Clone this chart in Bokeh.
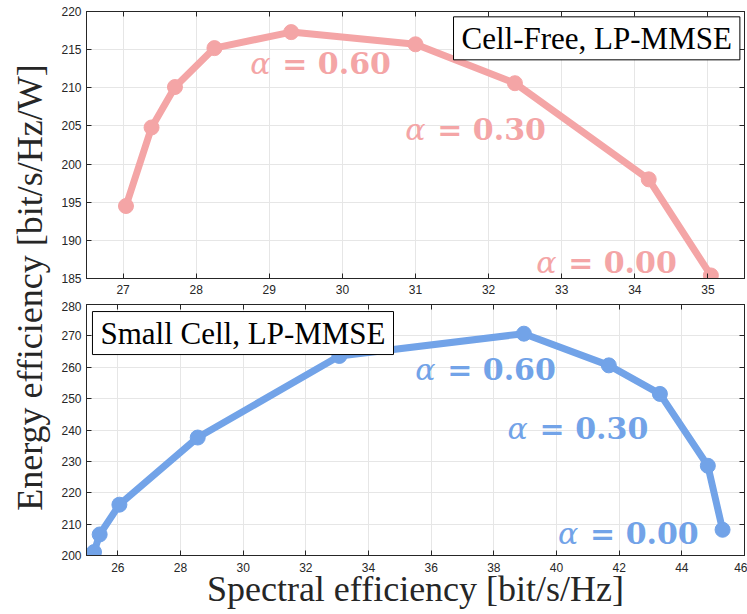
import math
from bokeh.plotting import figure
from bokeh.layouts import row, column
from bokeh.models import Range1d, SingleIntervalTicker, LinearAxis, Label, ColumnDataSource
from bokeh.core.properties import value
from bokeh.embed import file_html
from bokeh.resources import INLINE

# ---------------- data ----------------
cf_se = [27.04, 27.39, 27.71, 28.25, 29.30, 31.00, 32.36, 34.19, 35.04]
cf_ee = [194.5, 204.8, 210.1, 215.2, 217.3, 215.7, 210.6, 198.0, 185.4]

sc_se = [25.24, 25.42, 26.05, 28.55, 33.07, 38.96, 41.67, 43.30, 44.83, 45.30]
sc_ee = [201.1, 206.7, 216.2, 237.6, 263.6, 270.7, 260.6, 251.5, 228.6, 208.2]

alpha_values = ["= 0.60", "= 0.30", "= 0.00"]
cf_ann_x = [28.74, 30.86, 32.65]
cf_ann_y = [213.2, 204.5, 187.1]
sc_ann_x = [35.49, 38.44, 40.05]
sc_ann_y = [259.3, 240.5, 206.9]

cf_title = "Cell-Free, LP-MMSE"
sc_title = "Small Cell, LP-MMSE"
x_label = "Spectral efficiency [bit/s/Hz]"
y_label = "Energy efficiency [bit/s/Hz/W]"

PINK = "#F4A5A6"
BLUE = "#72A3E8"
AX = "#262626"
GRID = "#E6E6E6"
SERIF = "'Liberation Serif', 'Times New Roman', serif"
SANS = "'Liberation Sans', Arial, sans-serif"
STRIP = 55


def make_fig(w, h, xr, yr, xint, yint, mbt, mbb, xstand):
    p = figure(width=w, height=h, x_range=Range1d(*xr), y_range=Range1d(*yr),
               toolbar_location=None, output_backend="svg",
               min_border_left=86 - STRIP, min_border_right=3,
               min_border_top=mbt, min_border_bottom=mbb)
    bx = p.below[0]
    ly = p.left[0]
    bx.ticker = SingleIntervalTicker(interval=xint, num_minor_ticks=0)
    ly.ticker = SingleIntervalTicker(interval=yint, num_minor_ticks=0)
    for ax in (bx, ly):
        ax.major_tick_in = 5
        ax.major_tick_out = 0
        ax.minor_tick_line_color = None
        ax.axis_line_color = AX
        ax.major_tick_line_color = AX
        ax.major_label_text_font = SANS
        ax.major_label_text_font_size = "12px"
        ax.major_label_text_color = AX
    bx.major_label_standoff = xstand
    ly.major_label_standoff = 5
    # ticks on top and right (box), without labels
    top_ax = LinearAxis(ticker=SingleIntervalTicker(interval=xint, num_minor_ticks=0),
                        major_label_text_color=None, major_tick_in=5, major_tick_out=0,
                        major_label_standoff=0, axis_line_color=AX, major_tick_line_color=AX,
                        minor_tick_line_color=None)
    right_ax = LinearAxis(ticker=SingleIntervalTicker(interval=yint, num_minor_ticks=0),
                          major_label_text_color=None, major_tick_in=5, major_tick_out=0,
                          major_label_standoff=0, axis_line_color=AX, major_tick_line_color=AX,
                          minor_tick_line_color=None)
    p.add_layout(top_ax, "above")
    p.add_layout(right_ax, "right")
    p.xgrid.grid_line_color = GRID
    p.ygrid.grid_line_color = GRID
    p.outline_line_color = AX
    p.background_fill_color = "white"
    p.border_fill_color = "white"
    return p, bx


def add_series(p, xs, ys, color, ax_, ay_):
    src = ColumnDataSource(dict(x=xs, y=ys))
    p.line("x", "y", source=src, line_width=7, line_color=color)
    p.scatter("x", "y", source=src, size=15, fill_color=color, line_color=color)
    asrc = ColumnDataSource(dict(x=ax_, y=ay_, a=["α"] * len(ax_), t=alpha_values))
    p.text("x", "y", text="a", source=asrc, text_font=value("DejaVu Serif"),
           text_font_style="italic", text_font_size="30px", text_color=color,
           text_align="left", text_baseline="middle")
    p.text("x", "y", text="t", source=asrc, text_font=value("DejaVu Serif"),
           text_font_style="bold", text_font_size="30px", text_color=color,
           text_align="left", text_baseline="middle", x_offset=32)


def legend_label(x, y, text):
    return Label(x=x, y=y, text=text, anchor="top_left",
                 text_font=SERIF, text_font_size="31px", text_color="black",
                 border_line_color="black", border_line_width=1,
                 background_fill_color="white",
                 padding=dict(left=8, right=8, top=4, bottom=4))


W = 747 - STRIP
top, _ = make_fig(W, 301, (26.5, 35.5), (185, 220), 1, 5, 11, 23, 6)
add_series(top, cf_se, cf_ee, PINK, cf_ann_x, cf_ann_y)
top.add_layout(legend_label(31.52, 219.3, cf_title))

bottom, bx = make_fig(W, 313, (25, 46), (200, 280), 2, 10, 3, 59, 7)
add_series(bottom, sc_se, sc_ee, BLUE, sc_ann_x, sc_ann_y)
bottom.add_layout(legend_label(25.19, 277.75, sc_title))
bx.axis_label = x_label
bx.axis_label_text_font = SERIF
bx.axis_label_text_font_size = "36px"
bx.axis_label_text_font_style = "normal"
bx.axis_label_text_color = AX
bx.axis_label_standoff = -6

# left strip holding the shared y label
yl = figure(width=STRIP, height=614, x_range=Range1d(0, STRIP), y_range=Range1d(0, 614),
            toolbar_location=None, output_backend="svg",
            x_axis_location=None, y_axis_location=None,
            min_border=0, min_border_left=0, min_border_right=0,
            min_border_top=0, min_border_bottom=0)
yl.outline_line_color = None
yl.xgrid.visible = False
yl.ygrid.visible = False
yl.add_layout(Label(x=29, y=614 - 287, text=y_label, angle=math.pi / 2,
                    text_align="center", text_baseline="middle",
                    text_font=SERIF, text_font_size="36px", text_color=AX))

layout = row(yl, column(top, bottom))
open("out.html", "w").write(file_html(layout, INLINE))
